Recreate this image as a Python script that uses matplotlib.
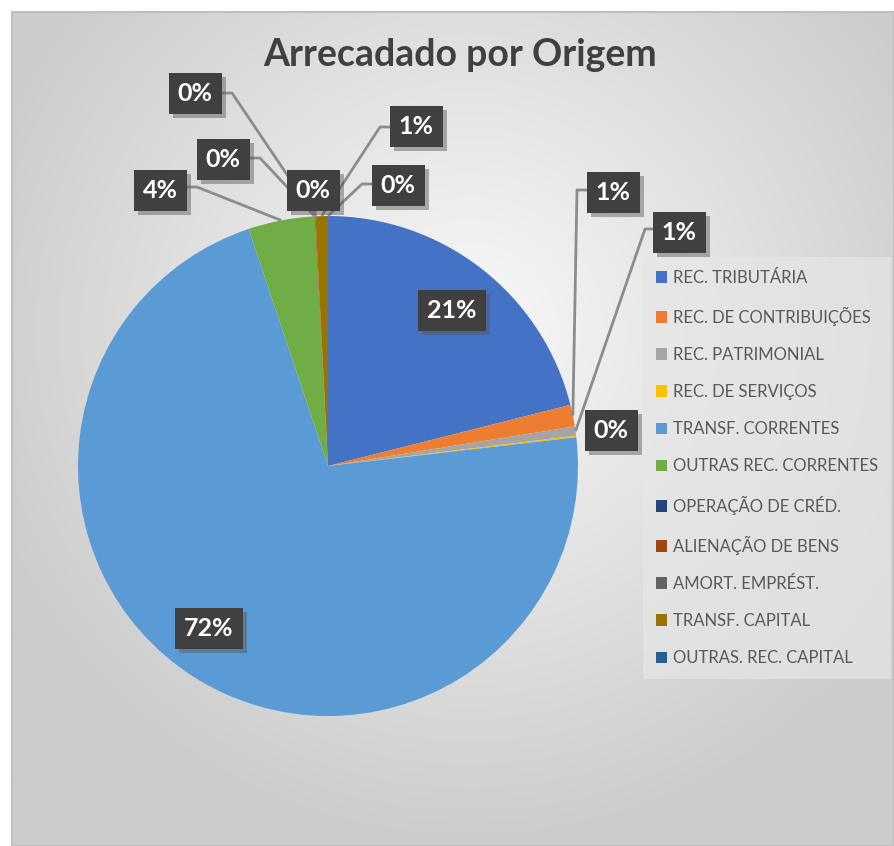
import numpy as np
import matplotlib
matplotlib.use("Agg")
import matplotlib.pyplot as plt
from matplotlib.patches import Rectangle, Patch
import matplotlib.patheffects as pe

plt.rcParams['font.family'] = ['Lato', 'DejaVu Sans']

# ---- data ----
categories = ["REC. TRIBUTÁRIA", "REC. DE CONTRIBUIÇÕES", "REC. PATRIMONIAL",
              "REC. DE SERVIÇOS", "TRANSF. CORRENTES", "OUTRAS REC. CORRENTES",
              "OPERAÇÃO DE CRÉD.", "ALIENAÇÃO DE BENS", "AMORT. EMPRÉST.",
              "TRANSF. CAPITAL", "OUTRAS. REC. CAPITAL"]
shares = [21.1, 1.4, 0.6, 0.1, 71.8, 4.3, 0.0, 0.05, 0.0, 0.8, 0.0]
pct_labels = ["21%", "1%", "1%", "0%", "72%", "4%", "0%", "0%", "0%", "1%", "0%"]
colors = ["#4472C4", "#ED7D31", "#A5A5A5", "#FFC000", "#5B9BD5", "#70AD47",
          "#264478", "#9E480E", "#636363", "#997300", "#255E91"]

W, H = 894, 846
fig = plt.figure(figsize=(W / 100, H / 100), dpi=100)
ax = fig.add_axes([0, 0, 1, 1])

def P(x, y):
    """pixel coords (origin top-left) -> data coords"""
    return x, H - y

# background radial gradient (chart area)
gx = np.linspace(12, W, 300)
gy = np.linspace(12, H, 300)
XX, YY = np.meshgrid(gx, gy)
d = np.sqrt(((XX - 470) / 620) ** 2 + ((YY - 330) / 620) ** 2)
v = np.clip(0.975 - 0.21 * d, 0.80, 1.0)
img = np.dstack([v, v, v])
ax.imshow(img, extent=(12, W, 0, H - 12), origin='upper', aspect='auto', zorder=0)
ax.add_patch(Rectangle((12, 0), W - 12, H - 12, fill=False, edgecolor='#bfbfbf', lw=1.5, zorder=1))

# pie
cx, cy = P(328, 466)
R = 250
wedges, _ = ax.pie(shares, colors=colors, startangle=90, counterclock=False,
                   center=(cx, cy), radius=R, wedgeprops=dict(linewidth=0))
for w in wedges:
    w.set_zorder(2)

ax.set_xlim(0, W)
ax.set_ylim(0, H)
ax.set_aspect('auto')
ax.axis('off')

# label layout: (box center px, elbow px or None)
layout = [
    ((452, 310), None),
    ((613, 192), (577, 190)),
    ((679, 232), (645, 229)),
    ((611, 430), None),
    ((209, 628), None),
    ((160, 190), (197, 187)),
    ((223, 159), (260, 158)),
    ((195, 93), (232, 93)),
    ((313, 190), None),
    ((416, 126), (380, 127)),
    ((398, 185), (362, 184)),
]

line_col = '#8c8c8c'
for i, (w, (bc, elbow)) in enumerate(zip(wedges, layout)):
    mid = np.deg2rad((w.theta1 + w.theta2) / 2)
    ex, ey = cx + R * np.cos(mid), cy + R * np.sin(mid)
    bx, by = P(*bc)
    if elbow is not None:
        elx, ely = P(*elbow)
        side = 1 if elx > bx else -1
        ax.plot([ex, elx, bx + side * 20], [ey, ely, ely], color=line_col, lw=2,
                zorder=3, solid_capstyle='butt')
    elif i == 8:
        ax.plot([ex, bx], [ey, by], color=line_col, lw=2, zorder=3)
    t = ax.text(bx, by, pct_labels[i], ha='center', va='center', color='white',
                fontsize=18, fontweight='bold', zorder=5,
                bbox=dict(boxstyle='square,pad=0.36', facecolor='#404040',
                          edgecolor='none'))
    t.get_bbox_patch().set_path_effects([
        pe.SimplePatchShadow(offset=(3, -3), shadow_rgbFace='#555555', alpha=0.45),
        pe.Normal()])

# title
tx, ty = P(460, 55)
ax.text(tx, ty, "Arrecadado por Origem", ha='center', va='center',
        fontsize=27, fontweight='bold', color='#404040', zorder=5)

# legend
handles = [Patch(facecolor=c, edgecolor='none') for c in colors]
leg = ax.legend(handles, categories, loc='upper left',
                bbox_to_anchor=(643 / W, 1 - 257 / H), bbox_transform=fig.transFigure,
                borderaxespad=0, frameon=True, fancybox=False,
                fontsize=12, labelcolor='#595959',
                handlelength=0.7, handleheight=0.7, handletextpad=0.35,
                labelspacing=1.27, borderpad=0.75)
fr = leg.get_frame()
fr.set_facecolor('#e6e6e6')
fr.set_alpha(0.7)
fr.set_edgecolor('none')
leg.set_zorder(6)

fig.savefig("out.png", dpi=100)
